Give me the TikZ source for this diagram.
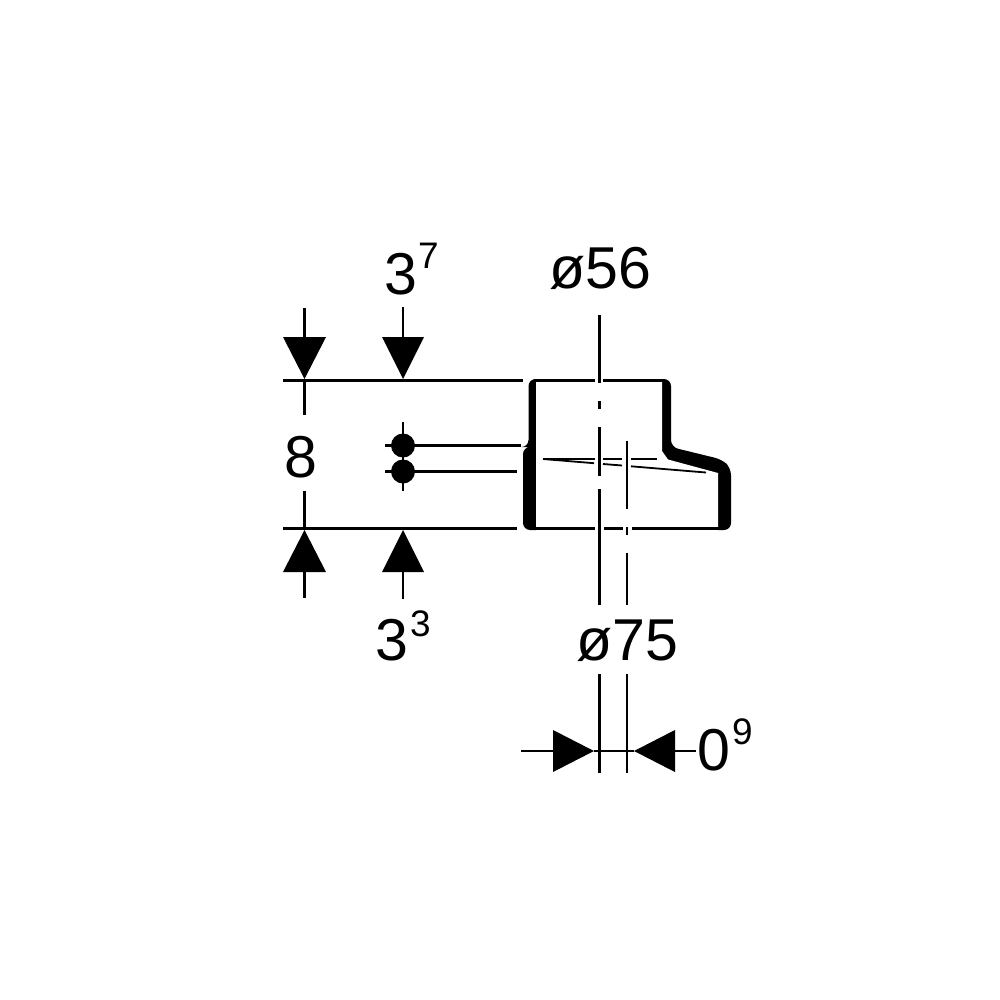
\documentclass[tikz,border=0pt]{standalone}
\usepackage{fontspec}
\setmainfont{Liberation Sans}
\usetikzlibrary{positioning}
\tikzset{
    dimline/.style={line width=0.026cm},
    thinline/.style={line width=0.018cm},
    tip/.style={fill=black},
    bignum/.style={inner sep=0pt, anchor=base west, font=\fontsize{16.8}{16.8}\selectfont},
    supnum/.style={inner sep=0pt, anchor=base west, font=\fontsize{10.5}{10.5}\selectfont}
}

\begin{document}
\begin{tikzpicture}[x=0.01cm, y=-0.01cm]
    \useasboundingbox (0,0) rectangle (1000,1000);

    % Body
    \fill[rounded corners=2pt] (528.5,379) -- (671,379) -- (671,447) -- (722,459.5) -- (731,468) -- (731,530)
        -- (523,530) -- (523,447) -- (528.5,447) -- cycle;
    \fill[white] (536,370) -- (662,370) -- (662,451) -- (668,459.5) -- (718,473) -- (718,540)
        -- (536,540) -- cycle;
    \draw[dimline] (534,380.5) -- (595,380.5) (603,380.5) -- (664,380.5);
    \draw[dimline] (534,528.5) -- (595,528.5) (604,528.5) -- (623,528.5) (632,528.5) -- (720,528.5);

    % Sloped thin lines
    \draw[thinline] (543,459) -- (595,459) (603,459) -- (622,459) (631,459) -- (657,459);
    \draw[thinline] (543,459) -- (594,463.2) (603,464) -- (622,465.5) (631,466.3) -- (706,472.5);

    % Center lines
    \draw[dimline] (599.5,315) -- (599.5,383) (599.5,401) -- (599.5,409) (599.5,427) -- (599.5,476) (599.5,489) -- (599.5,605);
    \draw[dimline] (627,441) -- (627,509) (627,527) -- (627,535) (627,553) -- (627,605);

    % Height dimension
    \draw[dimline] (283,380.5) -- (523,380.5);
    \draw[dimline] (283,528.5) -- (517,528.5);
    \draw[dimline] (304.5,308) -- (304.5,337) (304.5,380) -- (304.5,415);
    \draw[dimline] (304.5,491) -- (304.5,529) (304.5,572) -- (304.5,598);
    \draw[dimline] (403,307) -- (403,337) (403,572) -- (403,599);
    \fill[tip] (283,337) -- (326,337) -- (304.5,379) -- cycle;
    \fill[tip] (382,337) -- (424,337) -- (403,379) -- cycle;
    \fill[tip] (283,572) -- (326,572) -- (304.5,530) -- cycle;
    \fill[tip] (382,572) -- (424,572) -- (403,530) -- cycle;

    % Wall bubbles
    \draw[dimline] (403,422) -- (403,491);
    \draw[dimline] (385,445.5) -- (521,445.5);
    \draw[dimline] (385,471.5) -- (517,471.5);
    \fill (403,445.5) circle (12);
    \fill (403,471.5) circle (12);

    % Wall dimension
    \draw[dimline] (599.5,674) -- (599.5,773);
    \draw[dimline] (627,674) -- (627,773);
    \draw[dimline] (521,751) -- (553,751) (594,751) -- (634,751) (675,751) -- (696,751);
    \fill[tip] (553,730) -- (553,772) -- (594,751) -- cycle;
    \fill[tip] (675,730) -- (675,772) -- (634,751) -- cycle;

    % Labels
    \node[bignum] (topval) at (383.5,294) {3};
    \node[supnum] (topsup) at (417.5,268) {7};
    \node[bignum] (topdia) at (548.5,288.5) {ø56};
    \node[bignum] (height) at (283.5,477) {8};
    \node[bignum] (botval) at (374.5,660.5) {3};
    \node[supnum] (botsup) at (409.5,636) {3};
    \node[bignum] (botdia) at (576,660.5) {ø75};
    \node[bignum] (wallval) at (696.5,770) {0};
    \node[supnum] (wallsup) at (731.5,744) {9};
\end{tikzpicture}
\end{document}
